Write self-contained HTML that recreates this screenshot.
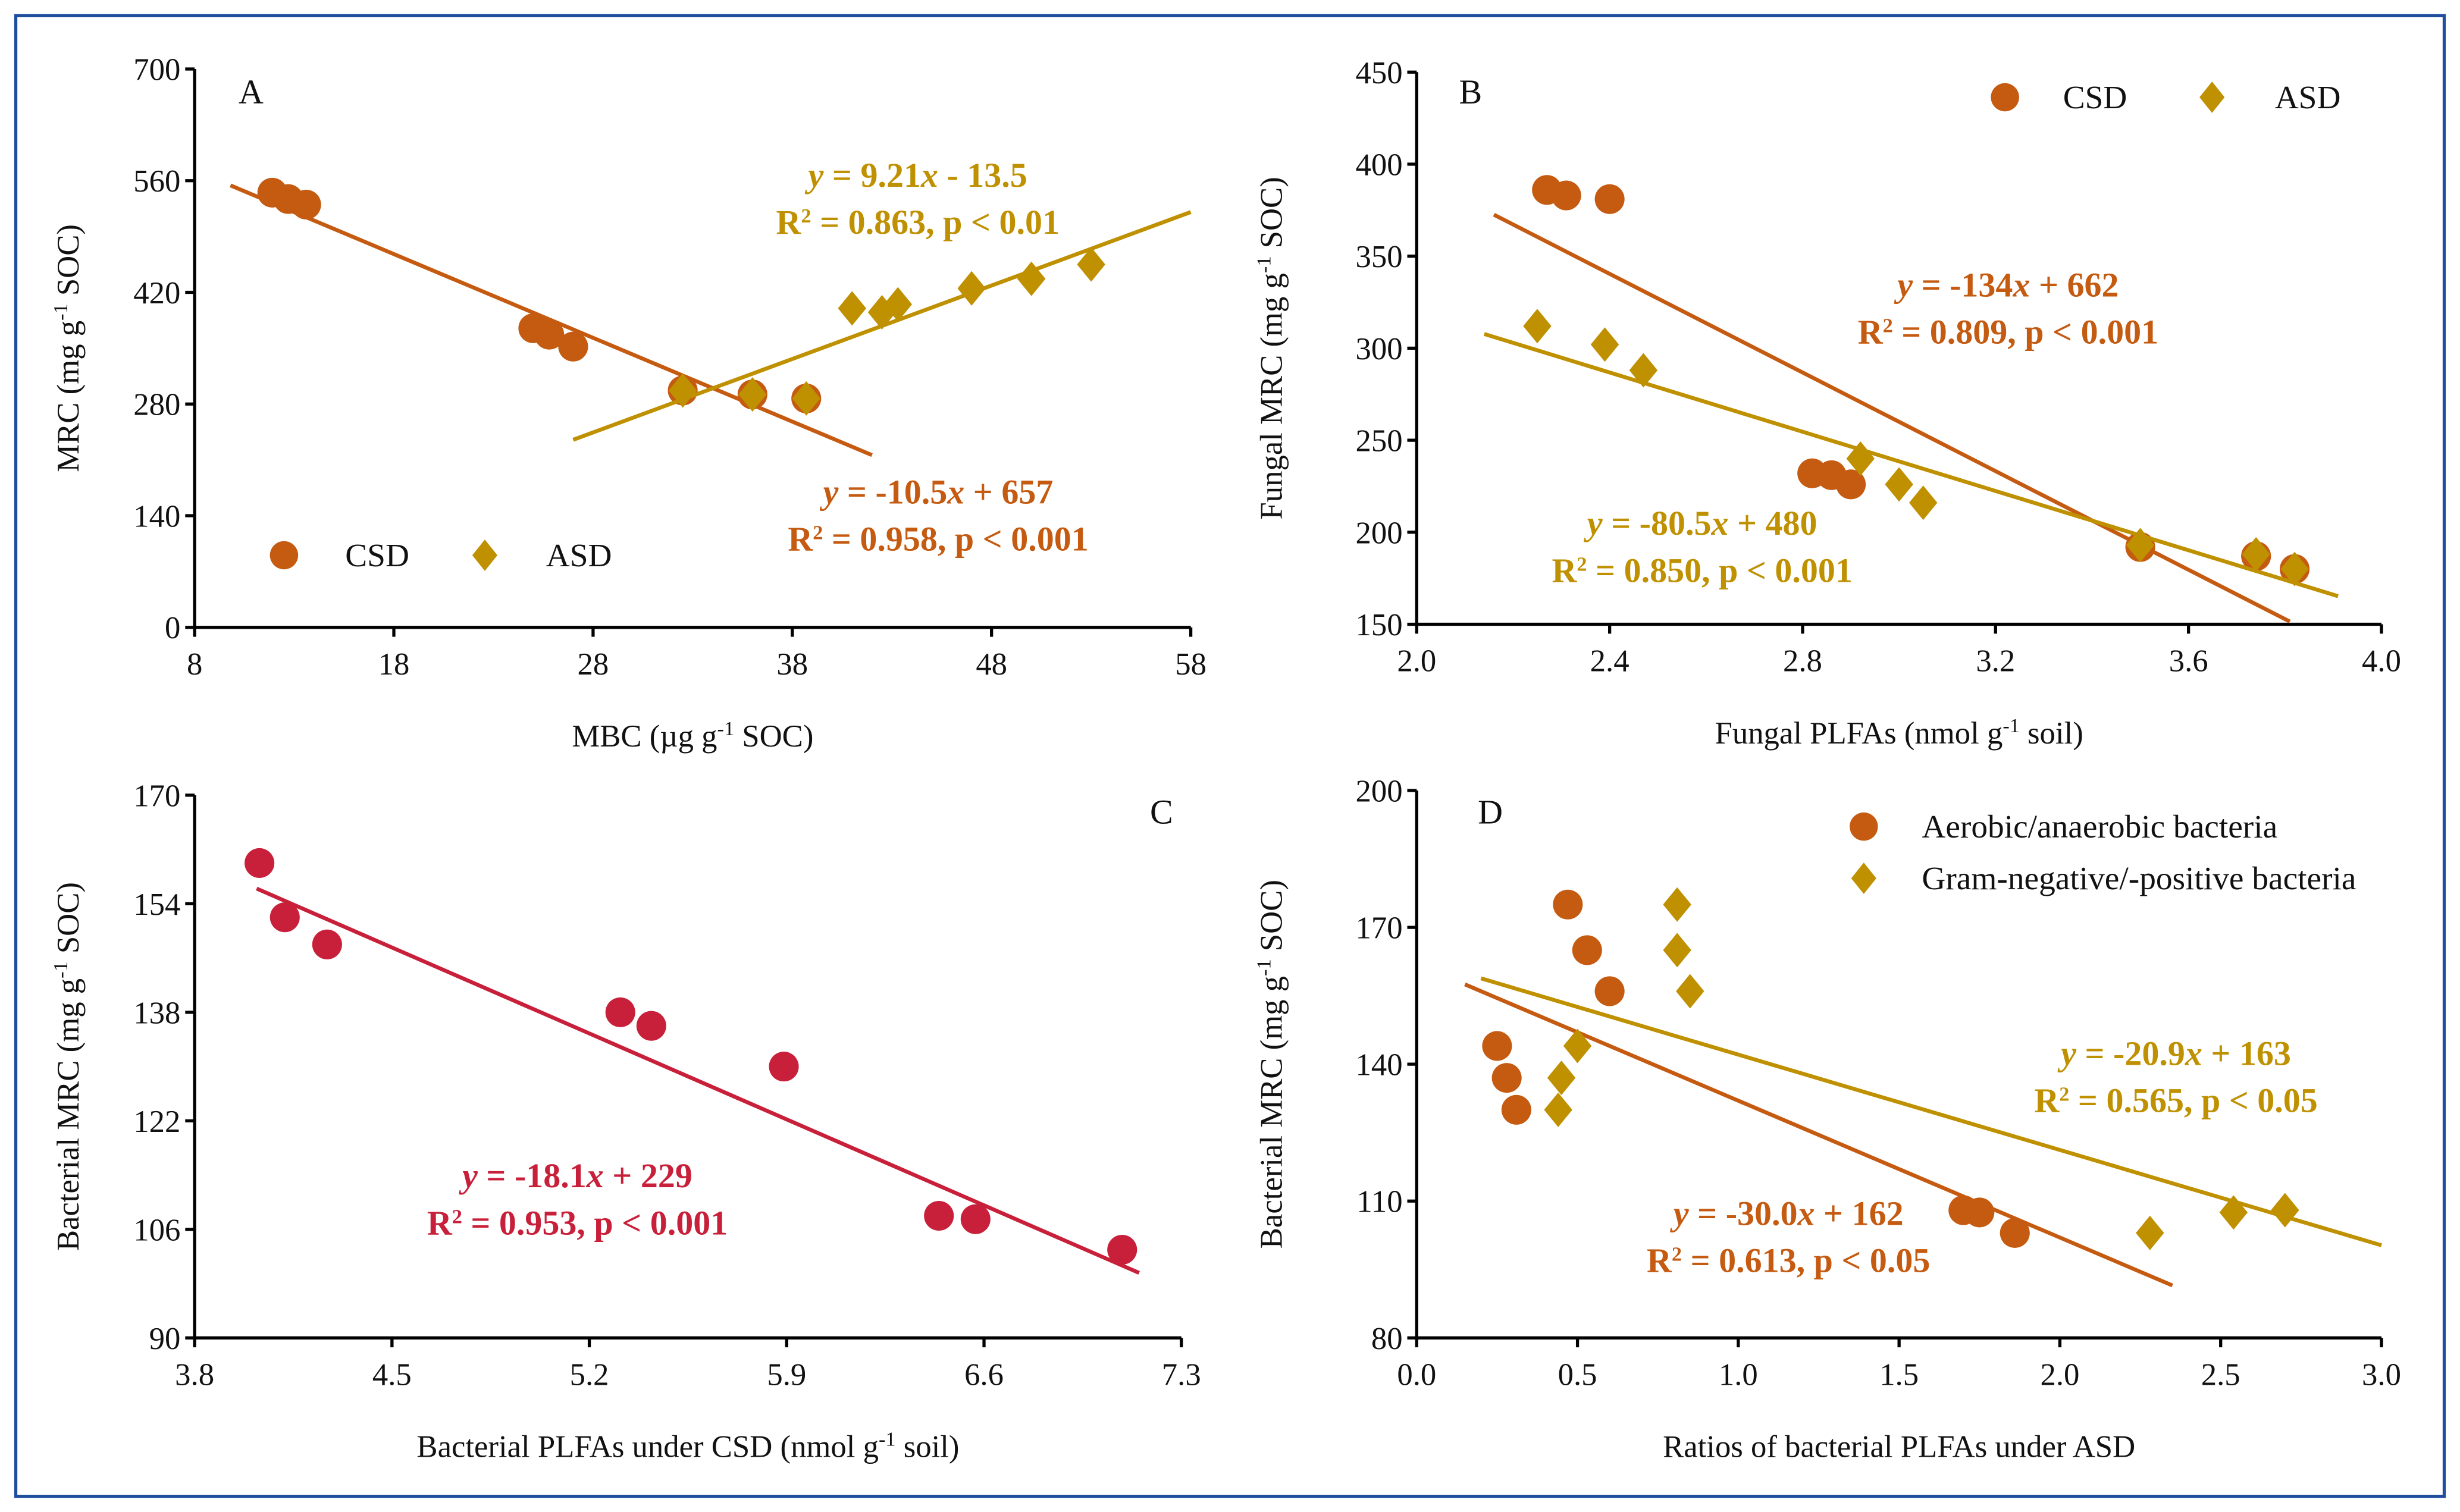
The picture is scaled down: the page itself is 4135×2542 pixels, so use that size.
<!DOCTYPE html>
<html><head><meta charset="utf-8"><style>
html,body{margin:0;padding:0;background:#fff;}
svg{display:block;}
svg text{font-family:"Liberation Serif","DejaVu Serif",serif;}
</style></head><body>
<svg id="fig" width="4135" height="2542" viewBox="0 0 1568 964" xmlns="http://www.w3.org/2000/svg" font-family="Liberation Serif, serif">
<rect x="10" y="10" width="1548" height="944" fill="#fff" stroke="#1f4e9c" stroke-width="2"/>
</svg>
<script>
const CSD='#c55a11', ASD='#bf9000', RED='#c8203a';
// Panel A
const aCsdX=[11.9,12.7,13.6,25,25.8,27,32.5,36,38.7];
const aCsdY=[545,537,530,375,367,352,297,292,287];
const aAsdX=[32.5,36,38.7,41,42.5,43.3,47,50,53];
const aAsdY=[297,292,287,400,395,405,425,437,455];
const aXTicks=[8,18,28,38,48,58];
const aYTicks=[0,140,280,420,560,700];
// Panel B
const bCsdX=[2.27,2.31,2.40,2.82,2.86,2.90,3.50,3.74,3.82];
const bCsdY=[386,383,381,232,231,226,192,187,180];
const bAsdX=[2.25,2.39,2.47,2.92,3.0,3.05,3.5,3.74,3.82];
const bAsdY=[312,302,288,240,226,216,193,188,180];
const bXTicks=[2.0,2.4,2.8,3.2,3.6,4.0];
const bYTicks=[150,200,250,300,350,400,450];
// Panel C
const cX=[4.03,4.12,4.27,5.31,5.42,5.89,6.44,6.57,7.09];
const cY=[160,152,148,138,136,130,108,107.5,103];
const cXTicks=[3.8,4.5,5.2,5.9,6.6,7.3];
const cYTicks=[90,106,122,138,154,170];
// Panel D
const dAerX=[0.25,0.28,0.31,0.47,0.53,0.60,1.70,1.75,1.86];
const dAerY=[144,137,130,175,165,156,108,107.5,103];
const dGramX=[0.44,0.45,0.50,0.81,0.81,0.85,2.28,2.54,2.70];
const dGramY=[130,137,144,175,165,156,103,107.5,108];
const dXTicks=[0.0,0.5,1.0,1.5,2.0,2.5,3.0];
const dYTicks=[80,110,140,170,200];

const svg=document.getElementById('fig');
const NS='http://www.w3.org/2000/svg';
function mk(tag,attrs,parent){const e=document.createElementNS(NS,tag);for(const k in attrs)e.setAttribute(k,attrs[k]);(parent||svg).appendChild(e);return e;}
function txt(s,x,y,opt,parent){const t=mk('text',Object.assign({x:x,y:y,'font-size':20,'font-family':'Liberation Serif, serif','text-anchor':'middle',fill:'#111'},opt||{}),parent);t.innerHTML=s;return t;}

function panel(p){
  const g=mk('g',{});
  
  
  const sx=v=>p.x0+(v-p.xmin)/(p.xmax-p.xmin)*(p.x1-p.x0);
  const sy=v=>p.y0-(v-p.ymin)/(p.ymax-p.ymin)*(p.y0-p.y1);
  const ax=mk('path',{d:`M${p.x0} ${p.y1}V${p.y0}H${p.x1}`,fill:'none',stroke:'#000','stroke-width':2},g);
  
  
  p.xt.forEach(v=>{const X=sx(v);mk('line',{x1:X,x2:X,y1:p.y0,y2:p.y0+6,stroke:'#000','stroke-width':2},g);
    const t=txt(v.toFixed(p.xd),X,p.y0+30,{},g);});
  p.yt.forEach(v=>{const Y=sy(v);mk('line',{x1:p.x0-6,x2:p.x0,y1:Y,y2:Y,stroke:'#000','stroke-width':2},g);
    const t=txt(String(v),p.x0-9,Y+7,{'text-anchor':'end'},g);});
  const xt=txt(p.xtitle,(p.x0+p.x1)/2,p.y0+76,{},g);
  
  const yc=(p.y0+p.y1)/2;
  const yt=txt(p.ytitle,p.ytx,yc,{transform:`rotate(-90 ${p.ytx} ${yc})`},g);
  
  const lt=txt(p.letter,p.lx,p.ly,{'font-size':22,'text-anchor':'start'},g);
  
  p.series.forEach(s=>{
    const ln=mk('line',{x1:sx(s.l0),y1:sy(s.a*s.l0+s.b),x2:sx(s.l1),y2:sy(s.a*s.l1+s.b),stroke:s.c,'stroke-width':2.5},g);
    
    s.xs.forEach((v,i)=>{const X=sx(v),Y=sy(s.ys[i]);let m;
      if(s.shape==='c')m=mk('circle',{cx:X,cy:Y,r:9.5,fill:s.c},g);
      else m=mk('path',{d:`M${X} ${Y-11}L${X+9} ${Y}L${X} ${Y+11}L${X-9} ${Y}Z`,fill:s.c},g);
      });
    s.eq.forEach((e,i)=>{const t=txt(e,s.ex,s.ey+i*30,{'font-size':22,'font-weight':'bold',fill:s.c},g);
      });
  });
  (p.legend||[]).forEach(l=>{let m;
    if(l.shape==='c')m=mk('circle',{cx:l.x,cy:l.y,r:9,fill:l.c},g);
    else m=mk('path',{d:`M${l.x} ${l.y-10}L${l.x+8} ${l.y}L${l.x} ${l.y+10}L${l.x-8} ${l.y}Z`,fill:l.c},g);
    
    const t=txt(l.t,l.tx,l.y+7,{'font-size':21,'text-anchor':'start'},g);
    });
}
const sup=s=>`<tspan baseline-shift="super" font-size="13">${s}</tspan>`;
panel({name:'panel-a',x0:124,x1:759,y0:400,y1:44,xmin:8,xmax:58,ymin:0,ymax:700,xt:aXTicks,yt:aYTicks,xd:0,
  xtitle:`MBC (µg g${sup('-1')} SOC)`,ytitle:`MRC (mg g${sup('-1')} SOC)`,ytx:50,letter:'A',lx:152,ly:66,
  series:[{xs:aCsdX,ys:aCsdY,c:CSD,shape:'c',a:-10.5,b:657,l0:9.8,l1:42,ex:598,ey:321,eq:[`<tspan font-style="italic">y</tspan> = -10.5<tspan font-style="italic">x</tspan> + 657`,`R${sup('2')} = 0.958, p &lt; 0.001`]},
          {xs:aAsdX,ys:aAsdY,c:ASD,shape:'d',a:9.21,b:-13.5,l0:27,l1:58,ex:585,ey:119,eq:[`<tspan font-style="italic">y</tspan> = 9.21<tspan font-style="italic">x</tspan> - 13.5`,`R${sup('2')} = 0.863, p &lt; 0.01`]}],
  legend:[{shape:'c',c:CSD,x:181,y:354,tx:220,t:'CSD'},{shape:'d',c:ASD,x:309,y:354,tx:348,t:'ASD'}]});
panel({name:'panel-b',x0:903,x1:1518,y0:398,y1:46,xmin:2,xmax:4,ymin:150,ymax:450,xt:bXTicks,yt:bYTicks,xd:1,
  xtitle:`Fungal PLFAs (nmol g${sup('-1')} soil)`,ytitle:`Fungal MRC (mg g${sup('-1')} SOC)`,ytx:817,letter:'B',lx:930,ly:66,
  series:[{xs:bCsdX,ys:bCsdY,c:CSD,shape:'c',a:-134,b:662,l0:2.16,l1:3.81,ex:1280,ey:189,eq:[`<tspan font-style="italic">y</tspan> = -134<tspan font-style="italic">x</tspan> + 662`,`R${sup('2')} = 0.809, p &lt; 0.001`]},
          {xs:bAsdX,ys:bAsdY,c:ASD,shape:'d',a:-80.5,b:480,l0:2.14,l1:3.91,ex:1085,ey:341,eq:[`<tspan font-style="italic">y</tspan> = -80.5<tspan font-style="italic">x</tspan> + 480`,`R${sup('2')} = 0.850, p &lt; 0.001`]}],
  legend:[{shape:'c',c:CSD,x:1278,y:62,tx:1315,t:'CSD'},{shape:'d',c:ASD,x:1410,y:62,tx:1450,t:'ASD'}]});
panel({name:'panel-c',x0:124,x1:753,y0:853,y1:507,xmin:3.8,xmax:7.3,ymin:90,ymax:170,xt:cXTicks,yt:cYTicks,xd:1,
  xtitle:`Bacterial PLFAs under CSD (nmol g${sup('-1')} soil)`,ytitle:`Bacterial MRC (mg g${sup('-1')} SOC)`,ytx:50,letter:'C',lx:733,ly:525,
  series:[{xs:cX,ys:cY,c:RED,shape:'c',a:-18.1,b:229,l0:4.02,l1:7.15,ex:368,ey:757,eq:[`<tspan font-style="italic">y</tspan> = -18.1<tspan font-style="italic">x</tspan> + 229`,`R${sup('2')} = 0.953, p &lt; 0.001`]}]});
panel({name:'panel-d',x0:903,x1:1518,y0:853,y1:504,xmin:0,xmax:3,ymin:80,ymax:200,xt:dXTicks,yt:dYTicks,xd:1,
  xtitle:'Ratios of bacterial PLFAs under ASD',ytitle:`Bacterial MRC (mg g${sup('-1')} SOC)`,ytx:817,letter:'D',lx:942,ly:525,
  series:[{xs:dAerX,ys:dAerY,c:CSD,shape:'c',a:-30,b:162,l0:0.15,l1:2.35,ex:1140,ey:781,eq:[`<tspan font-style="italic">y</tspan> = -30.0<tspan font-style="italic">x</tspan> + 162`,`R${sup('2')} = 0.613, p &lt; 0.05`]},
          {xs:dGramX,ys:dGramY,c:ASD,shape:'d',a:-20.9,b:163,l0:0.2,l1:3.0,ex:1387,ey:679,eq:[`<tspan font-style="italic">y</tspan> = -20.9<tspan font-style="italic">x</tspan> + 163`,`R${sup('2')} = 0.565, p &lt; 0.05`]}],
  legend:[{shape:'c',c:CSD,x:1188,y:527,tx:1225,t:'Aerobic/anaerobic bacteria'},{shape:'d',c:ASD,x:1188,y:560,tx:1225,t:'Gram-negative/-positive bacteria'}]});
</script>
</body></html>
